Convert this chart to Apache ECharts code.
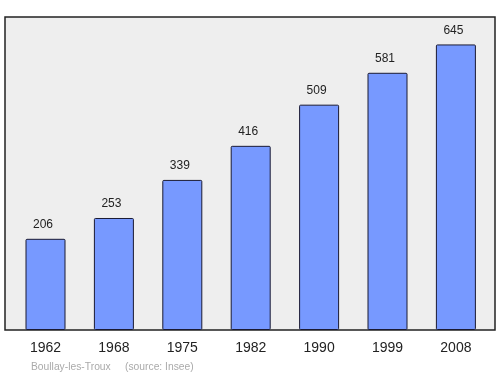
<!DOCTYPE html>
<html><head><meta charset="utf-8">
<script src="https://cdn.jsdelivr.net/npm/echarts@6/dist/echarts.min.js"></script>
<style>html,body{margin:0;padding:0;background:#fff}#c{width:500px;height:374px}</style>
</head><body><div id="c"></div>
<script>
const years = ['1962','1968','1975','1982','1990','1999','2008'];
const population = [206, 253, 339, 416, 509, 581, 645];
const townName = 'Boullay-les-Troux';
const sourceText = '(source: Insee)';

const chart = echarts.init(document.getElementById('c'), null, {renderer:'canvas'});
chart.setOption({
  animation: false,
  backgroundColor: '#ffffff',
  title: {
    text: townName + '     ' + sourceText,
    left: 26, top: 357,
    textStyle: {fontFamily: 'Liberation Sans, Arial, sans-serif', fontSize: 10.3, fontWeight: 'normal', color: '#aaaaaa'}
  },
  grid: [
    {left: 5, right: 5, top: 17, bottom: 44, show: true, backgroundColor: '#eeeeee', borderColor: '#222222', borderWidth: 1.5, z: 0},
    {left: 11.3, right: 9.9, top: 17, bottom: 44, z: 1}
  ],
  xAxis: [
    {gridIndex: 0, type: 'value', show: false, min: 0, max: 1},
    {gridIndex: 1, type: 'category', data: years,
     axisLine: {show: false}, axisTick: {show: false},
     axisLabel: {fontFamily: 'Liberation Sans, Arial, sans-serif', fontSize: 14, color: '#222222', margin: 11}}
  ],
  yAxis: [
    {gridIndex: 0, type: 'value', show: false, min: 0, max: 1},
    {gridIndex: 1, type: 'value', min: 0, max: 707, show: false, splitLine: {show: false}}
  ],
  series: [{
    type: 'bar', xAxisIndex: 1, yAxisIndex: 1,
    data: population,
    barWidth: 40,
    itemStyle: {color: '#7799ff', borderColor: '#1a1a33', borderWidth: 1, borderRadius: 1},
    label: {show: true, position: 'top', distance: 8, offset: [-2.5, 0],
      fontFamily: 'Liberation Sans, Arial, sans-serif', fontSize: 12, color: '#222222'}
  }]
});
</script></body></html>
